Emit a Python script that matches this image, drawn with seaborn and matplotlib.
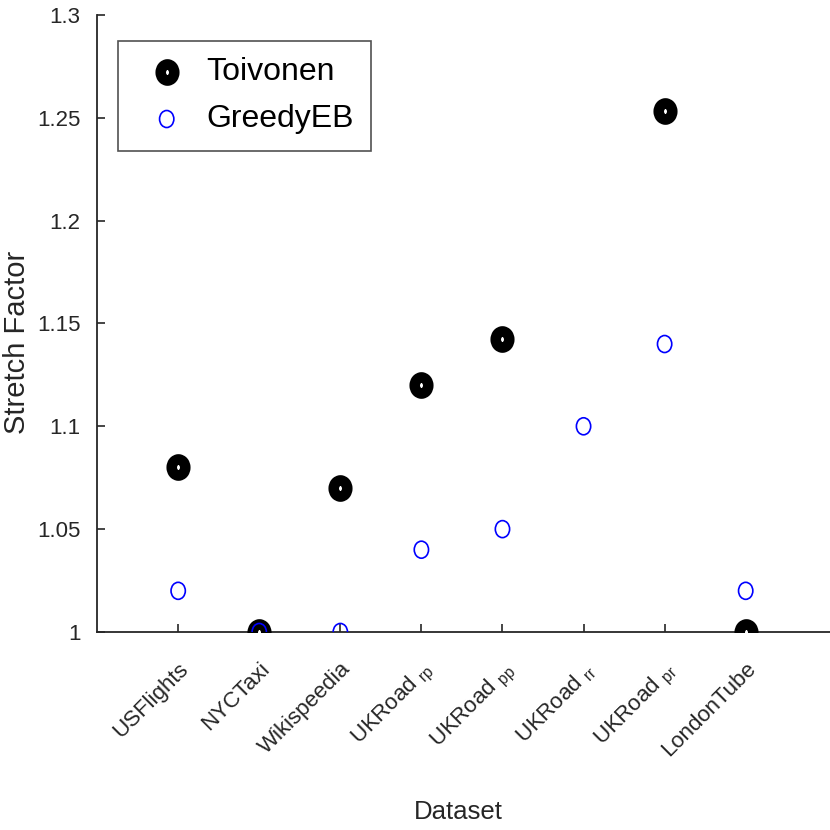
import matplotlib
matplotlib.use("Agg")
import matplotlib.pyplot as plt
from matplotlib.path import Path
from matplotlib.transforms import Affine2D
import seaborn as sns
import pandas as pd

# values
datasets = ["USFlights", "NYCTaxi", "Wikispeedia", "UKRoad $_{rp}$",
            "UKRoad $_{pp}$", "UKRoad $_{rr}$",
            "UKRoad $_{pr}$", "LondonTube"]
toivonen = [1.08, 1.0, 1.07, 1.12, 1.1425, None, 1.2535, 1.0]
greedy_eb = [1.02, 1.0, 1.0, 1.04, 1.05, 1.10, 1.14, 1.02]
y_ticks = [1, 1.05, 1.1, 1.15, 1.2, 1.25, 1.3]
y_tick_labels = ["1", "1.05", "1.1", "1.15", "1.2", "1.25", "1.3"]

sns.set_style("white")
plt.rcParams['font.family'] = ['Liberation Sans', 'DejaVu Sans']
plt.rcParams['mathtext.default'] = 'regular'

df = pd.DataFrame({"Dataset": datasets, "Toivonen": toivonen, "GreedyEB": greedy_eb})
df["pos"] = range(len(datasets))

# slightly tall circles, like the stretched original
ellipse = Path.unit_circle().transformed(Affine2D().scale(0.84, 1.0))

fig = plt.figure(figsize=(8.3, 8.3), dpi=100)
ax = fig.add_axes([0.117, 0.2386, 0.883, 0.7434])

sns.scatterplot(data=df.dropna(subset=["Toivonen"]), x="pos", y="Toivonen", ax=ax,
                marker=ellipse, s=135, facecolor="white", edgecolor="black",
                linewidth=7.6, label="Toivonen", zorder=3)
sns.scatterplot(data=df, x="pos", y="GreedyEB", ax=ax,
                marker=ellipse, s=150, facecolor="none", edgecolor="blue",
                linewidth=1.2, label="GreedyEB", zorder=4)

ax.set_xlim(-1, 8.04)
ax.set_ylim(1, 1.3)
ax.set_xticks(df["pos"])
ax.set_xticklabels(datasets, rotation=45, ha="right", rotation_mode="anchor", fontsize=16)
ax.set_yticks(y_ticks)
ax.set_yticklabels(y_tick_labels, fontsize=16)
ax.tick_params(axis="both", direction="in", length=6, width=1.2, color="#262626",
               bottom=True, left=True, labelcolor="#262626")
ax.tick_params(axis="y", pad=12)
ax.tick_params(axis="x", pad=19)

for side in ["top", "right"]:
    ax.spines[side].set_visible(False)
for side in ["left", "bottom"]:
    ax.spines[side].set_linewidth(1.3)
    ax.spines[side].set_color("#262626")

ax.set_xlabel("Dataset", fontsize=18.5, color="#262626")
ax.set_ylabel("Stretch Factor", fontsize=21, color="#262626")
ax.xaxis.set_label_coords(0.4925, -0.272)
ax.yaxis.set_label_coords(-0.09, 0.47)

leg = ax.legend(loc="upper left", bbox_to_anchor=(0.0287, 0.958), fontsize=23,
                frameon=True, fancybox=False, edgecolor="#262626",
                handlelength=2.0, handletextpad=0.25, borderpad=0.52,
                labelspacing=0.53, borderaxespad=0)
leg.get_frame().set_linewidth(1.2)
for t in leg.get_texts():
    t.set_color("black")

fig.savefig("out.png", dpi=100)
